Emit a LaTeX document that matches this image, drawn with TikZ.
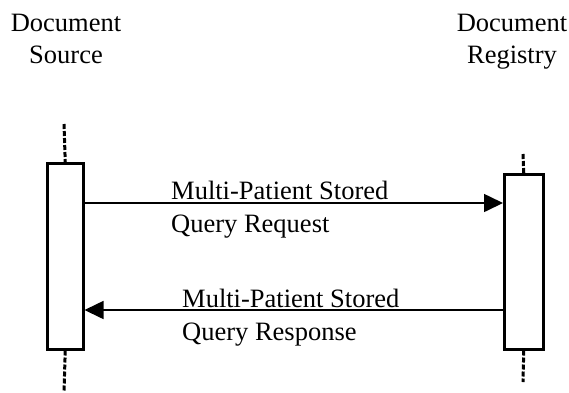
\documentclass[tikz,border=0pt]{standalone}
\usepackage{fontspec}
\setmainfont{Liberation Serif}
\usetikzlibrary{arrows.meta}
\begin{document}
\begin{tikzpicture}[x=1pt,y=-1pt,
  lbl/.style={font=\fontsize{26.5}{32}\selectfont, inner sep=0pt},
  msgl/.style={font=\fontsize{26.5}{33}\selectfont, inner sep=0pt},
  actbox/.style={draw, line width=2.5pt, rectangle, inner sep=0pt},
  lifeline/.style={line width=3pt, dash pattern=on 5pt off 2pt},
  msg/.style={line width=1.6pt, -{Triangle[length=19pt,width=18pt]}}]
\useasboundingbox (0,0) rectangle (569,392);
% headers
\node[lbl, align=center, anchor=north] (hsrc) at (66,14) {Document\\Source};
\node[lbl, align=center, anchor=north] (hreg) at (512,14) {Document\\Registry};
% activation boxes
\node[actbox, minimum width=36pt, minimum height=186pt, anchor=north west] (src) at (46,162) {};
\node[actbox, minimum width=39pt, minimum height=175pt, anchor=north west] (reg) at (503,173) {};
% lifeline ends
\coordinate (srctop) at (64,124);
\coordinate (srcbot) at (64,392);
\coordinate (regtop) at (523,154);
\coordinate (regbot) at (523,382);
\draw[lifeline] (srctop) -- (src.north);
\draw[lifeline] (src.south) -- (srcbot);
\draw[lifeline] (regtop) -- (reg.north);
\draw[lifeline] (reg.south) -- (regbot);
% messages
\coordinate (m1) at (0,203);
\coordinate (m2) at (0,310);
\draw[msg] (src.east |- m1) -- (reg.west |- m1);
\draw[msg] (reg.west |- m2) -- (src.east |- m2);
\node[msgl, align=left, anchor=north west] (t1) at (171,181) {Multi-Patient Stored\\Query Request};
\node[msgl, align=left, anchor=north west] (t2) at (182,289) {Multi-Patient Stored\\Query Response};
\end{tikzpicture}
\end{document}
